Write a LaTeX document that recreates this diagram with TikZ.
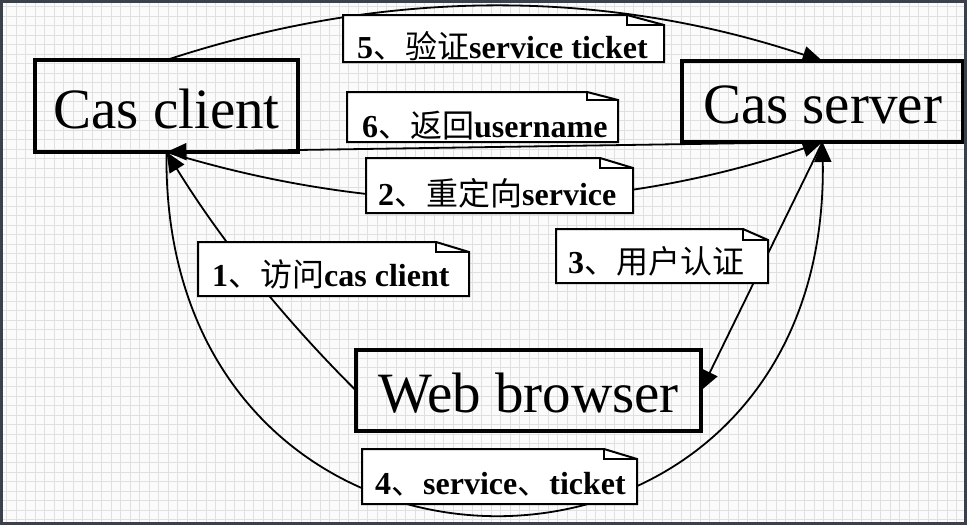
\documentclass[tikz,border=0pt]{standalone}
\usepackage{fontspec}
\setmainfont{Liberation Serif}
\newfontfamily\cjk{Noto Sans CJK SC}
\usetikzlibrary{arrows.meta}
\pgfdeclarelayer{gridlayer}
\pgfdeclarelayer{linelayer}
\pgfsetlayers{gridlayer,linelayer,main}
\definecolor{framec}{HTML}{3C4048}
\definecolor{gridc}{HTML}{E0E0E0}
\definecolor{paper}{HTML}{FBFBFB}
\newcommand{\zh}[1]{{\cjk\mdseries #1}}
\tikzset{
  bigbox/.style={draw=black, line width=3.5pt, inner sep=0pt, outer sep=0pt,
    font=\fontsize{57}{57}\selectfont, text height=44pt, text depth=0pt},
  noteholder/.style={inner sep=0pt, outer sep=0pt},
  noteline/.style={draw=black, fill=white, line width=2pt, line join=miter},
  notetext/.style={inner sep=0pt, anchor=base west, font=\fontsize{32}{32}\selectfont\bfseries},
  conn/.style={line width=1.8pt, draw=black},
  arrowend/.style={-{Triangle[length=20pt,width=17pt]}},
}
\newcommand{\notefold}[3]{%
  \filldraw[noteline] (#1.south west) -- (#1.north west) -- ([xshift=-#2pt]#1.north east)
    -- ([yshift=-#3pt]#1.north east) -- (#1.south east) -- cycle;
  \draw[noteline, fill=none] ([xshift=-#2pt]#1.north east) -- ([xshift=-#2pt,yshift=-#3pt]#1.north east)
    -- ([yshift=-#3pt]#1.north east);
}
\begin{document}
\begin{tikzpicture}[x=1pt,y=-1pt]
\useasboundingbox (0,0) rectangle (967,525);
\begin{pgfonlayer}{gridlayer}
  \fill[paper] (0,0) rectangle (967,525);
  \foreach \i in {0,...,101} \draw[gridc, line width=0.6pt] ({6.7+9.5*\i},0) -- ({6.7+9.5*\i},525);
  \foreach \j in {0,...,55} \draw[gridc, line width=0.6pt] (0,{6.5+9.5*\j}) -- (967,{6.5+9.5*\j});
\end{pgfonlayer}

% main boxes
\node[bigbox, minimum width=263pt, minimum height=92pt] (cc) at (166.5,106) {Cas client};
\node[bigbox, minimum width=281pt, minimum height=81pt] (cs) at (822.5,101.5) {Cas server};
\node[bigbox, minimum width=345pt, minimum height=81pt] (wb) at (528.5,390.5) {Web browser};

% note placeholders
\node[noteholder, minimum width=321pt, minimum height=47pt] (n5) at (503.5,38.5) {};
\node[noteholder, minimum width=271pt, minimum height=50pt] (n6) at (482.5,117) {};
\node[noteholder, minimum width=267pt, minimum height=55pt] (n2) at (499.5,185.5) {};
\node[noteholder, minimum width=271pt, minimum height=54pt] (n1) at (333.5,269) {};
\node[noteholder, minimum width=212pt, minimum height=54pt] (n3) at (662,256) {};
\node[noteholder, minimum width=275pt, minimum height=55pt] (n4) at (499.5,476.5) {};

\notefold{n5}{37}{10}
\notefold{n6}{31}{8}
\notefold{n2}{33}{10}
\notefold{n1}{33}{10}
\notefold{n3}{25}{11}
\notefold{n4}{33}{10}

\node[notetext] (t5) at (357,58) {5\zh{、验证}service ticket};
\node[notetext] (t6) at (362,137) {6\zh{、返回}username};
\node[notetext] (t2) at (378,205) {2\zh{、重定向}service};
\node[notetext] (t1) at (212,286) {1\zh{、访问}cas client};
\node[notetext] (t3) at (568,273) {3\zh{、用户认证}};
\node[notetext] (t4) at (375,494) {4\zh{、}service\zh{、}ticket};

% connectors
\begin{pgfonlayer}{linelayer}
  \draw[conn, arrowend] (wb.west) .. controls (283,318) and (220,239) .. (cc.south);
  \draw[conn, arrowend] (cc.south) .. controls (385,219) and (604,216) .. (cs.south);
  \draw[conn, arrowend] (cs.south) -- (wb.east);
  \draw[conn, arrowend] (cc.south) .. controls (160,636) and (830,636) .. (cs.south);
  \draw[conn, arrowend] (cc.north) .. controls (385,-12) and (603,-12) .. (cs.north);
  \draw[conn, arrowend] (cs.south) -- (cc.south);
\end{pgfonlayer}

\draw[framec, line width=3pt] (1.5,1.5) rectangle (965.5,523.5);
\end{tikzpicture}
\end{document}
